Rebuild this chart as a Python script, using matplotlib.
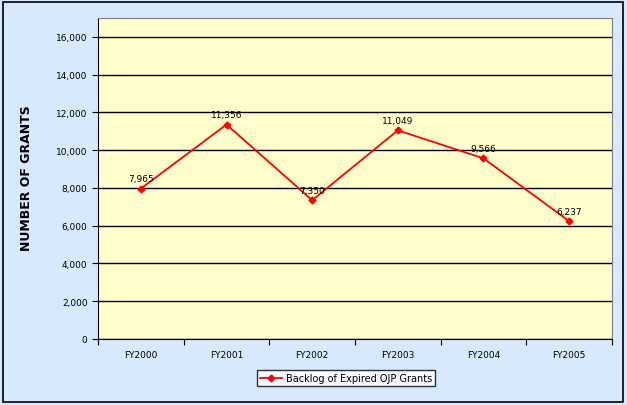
import matplotlib
matplotlib.use('Agg')
from matplotlib import pyplot as plt
from matplotlib.patches import Rectangle

years = ['FY2000', 'FY2001', 'FY2002', 'FY2003', 'FY2004', 'FY2005']
backlog = [7965, 11356, 7350, 11049, 9566, 6237]
yticks = [0, 2000, 4000, 6000, 8000, 10000, 12000, 14000, 16000]

plt.rcParams['font.family'] = ['DejaVu Sans']

fig = plt.figure(figsize=(6.27, 4.06), dpi=100)
fig.patch.set_facecolor('#D6E9FF')
fig.patches.append(Rectangle((3 / 627, 3 / 406), 620 / 627, 400 / 406,
                             transform=fig.transFigure, fill=False,
                             edgecolor='black', linewidth=1.2))

ax = fig.add_axes([98 / 627, 66 / 406, 514 / 627, 321 / 406])
ax.set_facecolor('#FFFFCC')

x = [i + 0.5 for i in range(len(years))]
ax.plot(x, backlog, color='#FF0000', marker='D', markersize=3.5, linewidth=1.3,
        label='Backlog of Expired OJP Grants', zorder=3)

for xi, v in zip(x, backlog):
    ax.annotate(f'{v:,}', (xi, v), xytext=(0, 4), textcoords='offset points',
                ha='center', va='bottom', fontsize=6.5, color='black')

ax.set_xlim(0, len(years))
ax.set_ylim(0, 17000)
ax.set_yticks(yticks)
ax.set_yticklabels([f'{t:,}' for t in yticks], fontsize=6.5)
ax.set_xticks(range(len(years) + 1))
ax.set_xticklabels([])
ax.set_xticks(x, minor=True)
ax.set_xticklabels(years, minor=True, fontsize=6.5)
ax.tick_params(axis='x', which='minor', length=0, pad=8)
ax.tick_params(axis='x', which='major', length=4, direction='out')
ax.tick_params(axis='y', length=4, direction='out')
ax.grid(axis='y', color='black', linewidth=1.0)
ax.set_axisbelow(True)
ax.spines['left'].set_color('black')
ax.spines['bottom'].set_color('black')
ax.spines['right'].set_color('#808080')
ax.spines['top'].set_color('#808080')

fig.text(27 / 627, 1 - 178 / 406, 'NUMBER OF GRANTS', rotation=90,
         ha='center', va='center', fontsize=9, fontweight='bold')

leg = fig.legend(loc='center', bbox_to_anchor=(346 / 627, 1 - 379 / 406),
                 fontsize=7, frameon=True, fancybox=False, edgecolor='black',
                 handlelength=2.2, borderpad=0.3, handletextpad=0.4)
leg.get_frame().set_facecolor('white')

fig.savefig('out.png', dpi=100, facecolor=fig.get_facecolor())
